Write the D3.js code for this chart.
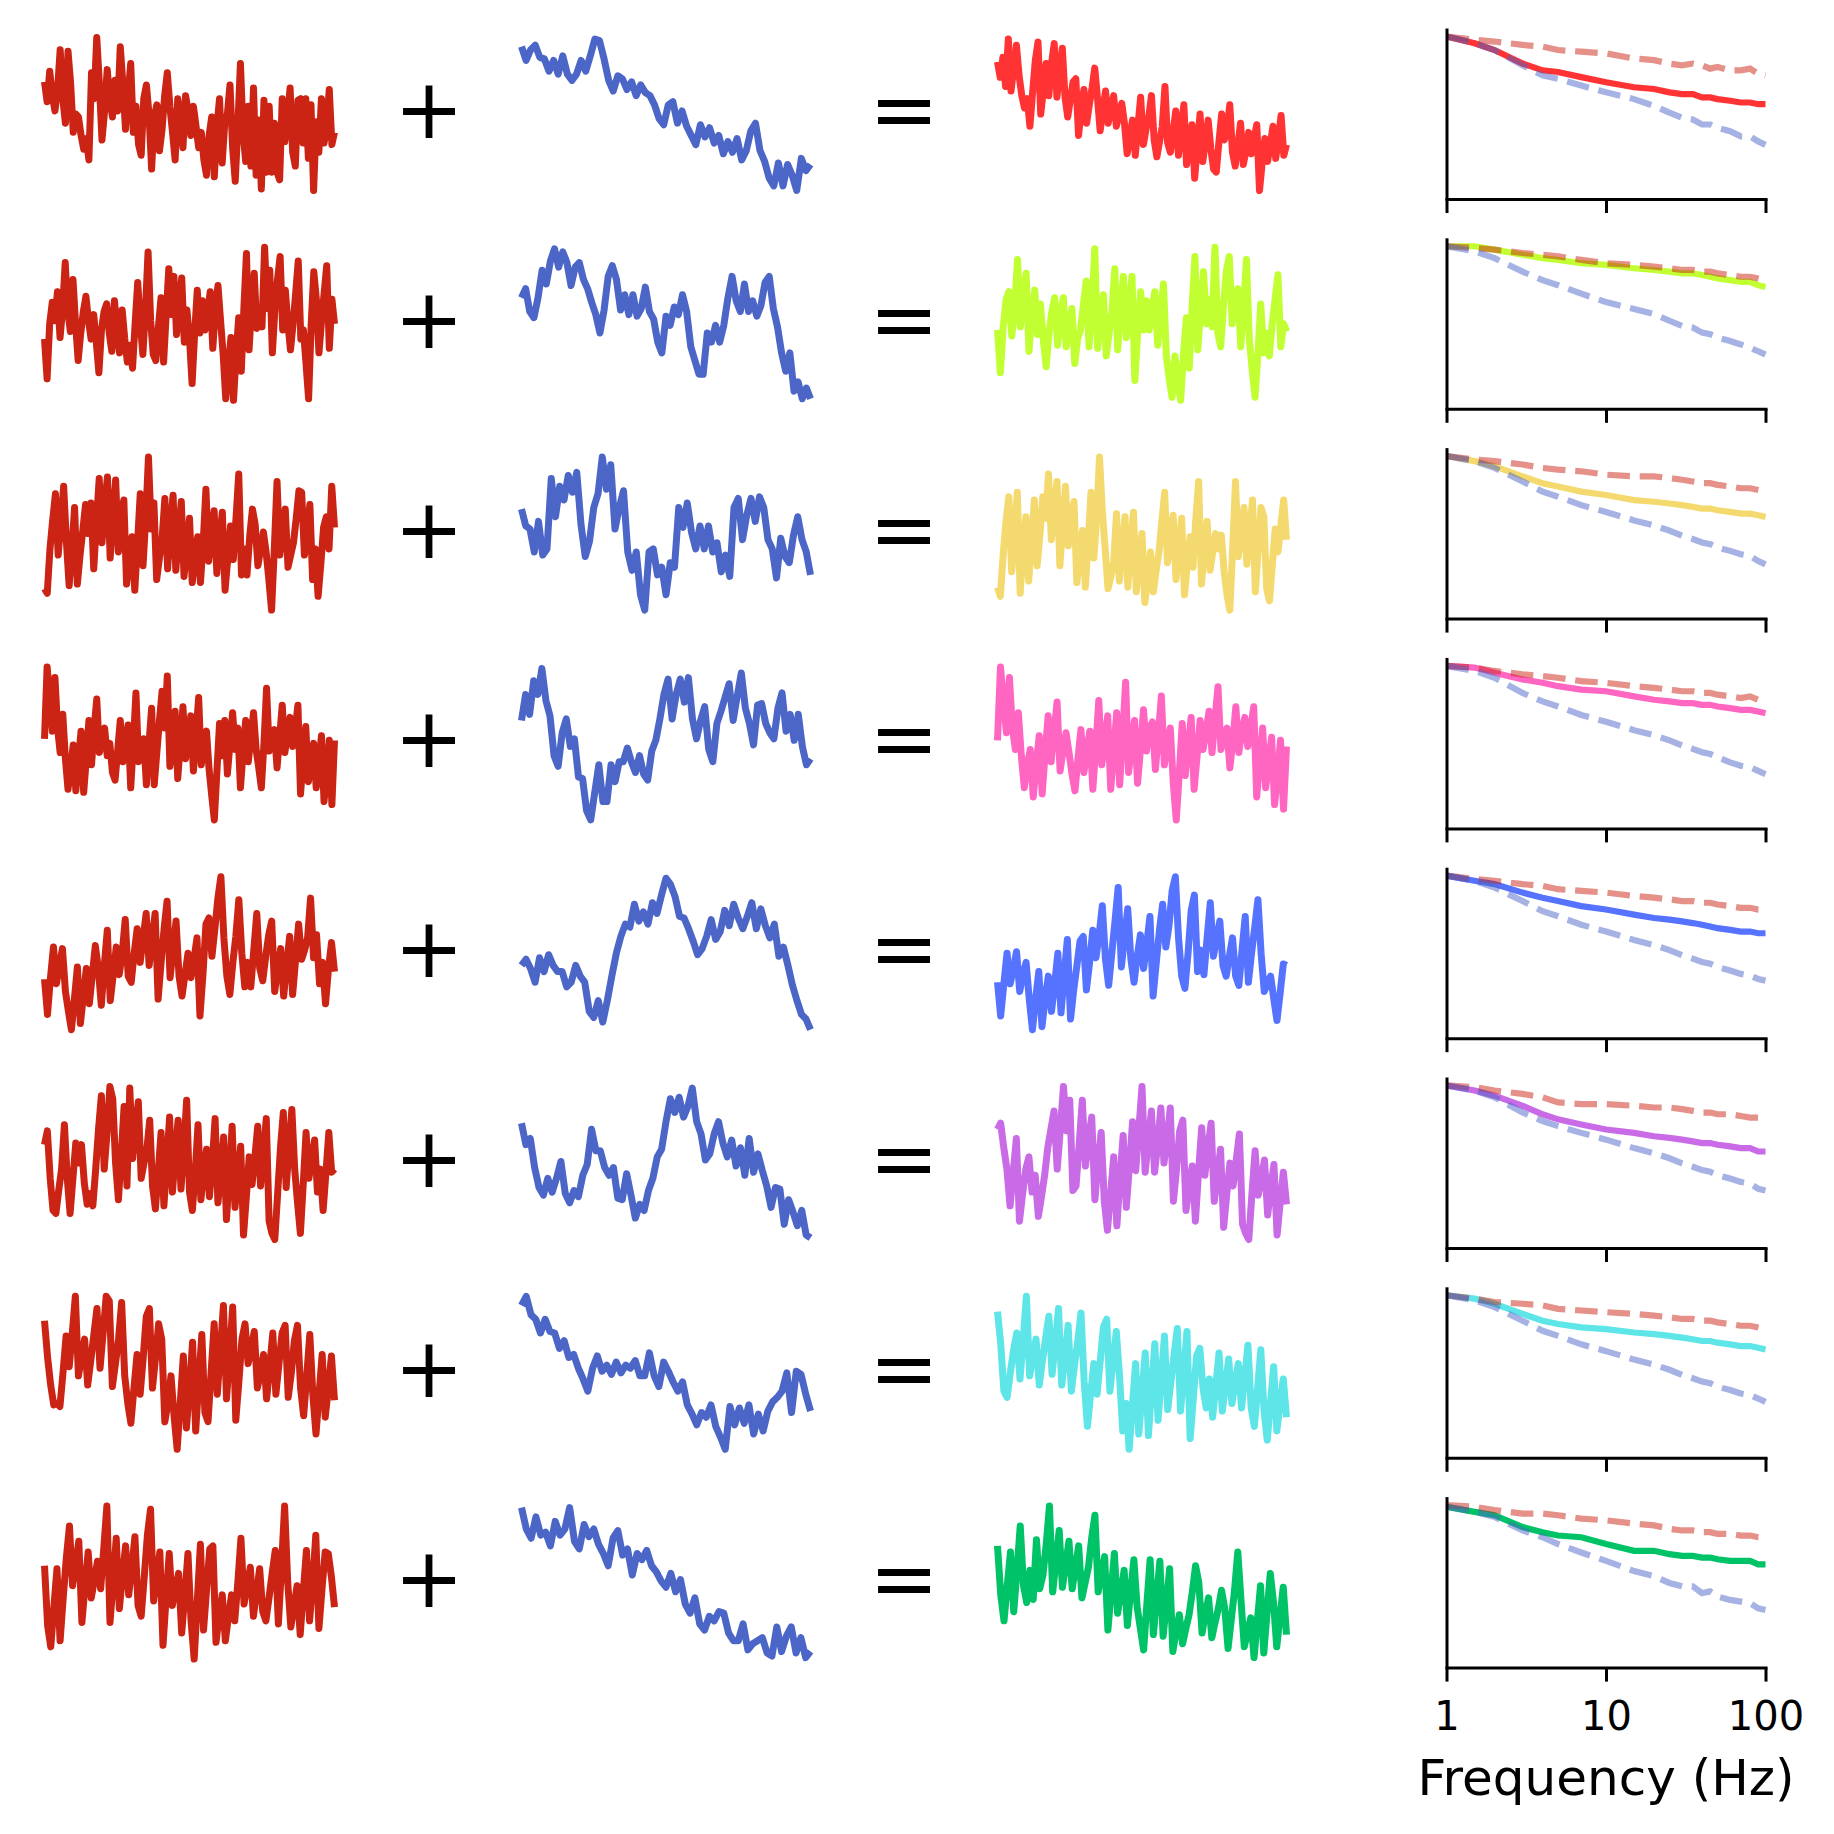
<!DOCTYPE html>
<html>
<head>
<meta charset="utf-8">
<script src="https://cdn.jsdelivr.net/npm/d3@7"></script>
<style>
  body { margin: 0; background: #fff; }
  text { font-family: "DejaVu Sans"; fill: #000; }
</style>
</head>
<body>
<svg id="chart" width="1834" height="1834"></svg>
<script>
// time series (0 = lowest point of the trace, 100 = highest)
const red1 = [71,58,78,62,52,66,92,60,44,91,70,38,50,48,36,27,34,20,77,60,100,70,33,52,79,60,48,72,52,94,70,40,62,83,38,55,30,23,60,69,50,14,48,56,26,40,62,77,55,38,20,60,48,28,62,52,36,55,42,28,38,20,10,36,48,9,42,60,18,44,50,69,28,6,42,83,38,19,55,16,67,10,46,1,59,12,55,12,44,12,7,60,32,49,67,25,16,59,60,31,60,21,56,0,45,25,60,31,42,66,30,38]
const blue1 = [94,85,92,95,87,86,78,85,76,88,76,72,76,85,78,88,99,98,86,72,65,75,73,66,71,62,69,64,62,56,47,43,56,58,44,52,42,36,30,43,35,41,31,36,24,32,25,34,20,26,39,44,26,19,8,3,18,3,17,10,0,21,13,17]
const sum1 = [84,74,87,68,99,65,80,95,75,62,54,60,42,64,85,97,50,66,83,62,83,96,61,78,93,61,48,60,71,73,36,52,66,44,56,67,80,61,39,52,65,44,54,62,42,50,57,44,24,36,46,23,42,61,30,40,48,62,33,22,32,42,68,31,25,38,52,23,40,56,17,30,43,8,30,50,19,32,46,27,14,12,32,50,33,40,56,25,16,30,44,17,26,38,24,34,43,0,18,34,19,30,42,21,34,49,23,30]

const red2 = [40,14,50,64,52,71,41,60,90,58,45,79,50,26,44,58,68,52,40,56,38,18,46,58,63,44,32,65,48,31,59,40,25,36,21,50,77,50,30,60,97,52,30,26,48,67,25,56,86,56,81,43,60,80,38,59,40,11,44,72,44,65,46,58,71,34,60,75,52,30,1,22,41,0,30,54,19,60,96,33,62,83,47,60,48,100,60,85,31,60,79,94,46,72,50,33,50,70,91,40,46,24,1,50,84,66,31,52,70,88,34,66,50]
const blue2 = [67,73,58,54,67,85,76,91,99,87,97,90,75,87,90,79,73,64,56,44,59,81,88,79,59,69,56,69,55,60,74,58,53,38,31,55,49,61,56,69,58,35,26,17,17,44,38,49,38,49,67,81,65,58,76,58,65,55,62,77,81,60,48,31,19,31,6,12,1,8,1]
const sum2 = [46,18,48,66,71,42,60,92,48,70,83,32,55,72,43,63,40,22,44,58,67,36,55,67,35,50,60,24,40,46,62,78,35,60,99,34,52,69,29,44,58,86,33,60,81,41,62,81,13,44,71,46,65,46,60,71,36,56,76,29,14,2,29,12,0,30,54,21,60,94,33,60,84,50,66,48,100,44,35,62,85,94,50,70,73,35,60,92,40,20,2,30,63,31,44,29,50,66,82,35,50,45]

const red3 = [14,11,40,59,76,36,58,81,45,16,40,67,17,36,52,69,50,70,27,58,86,44,68,87,34,60,85,38,62,72,17,32,48,13,44,76,29,60,100,53,70,20,34,47,73,27,55,75,26,50,71,22,42,60,18,34,48,18,44,79,32,50,65,24,46,64,13,34,55,33,60,89,23,40,23,48,66,56,29,40,51,38,20,0,40,84,36,52,66,28,36,44,60,78,77,36,52,69,20,40,9,30,54,61,40,81,54]
const blue3 = [66,55,53,38,58,36,40,86,61,81,72,88,77,90,56,35,45,67,76,100,79,95,53,67,78,38,26,38,10,0,38,40,23,28,10,31,28,67,54,70,51,40,55,40,55,38,44,25,36,22,67,73,46,62,73,58,74,67,46,40,21,47,35,31,49,61,46,38,23]
const sum3 = [15,9,36,58,74,25,50,77,11,40,61,19,44,72,29,50,74,60,89,46,66,84,29,55,81,42,60,71,18,36,52,15,44,77,34,60,100,65,40,14,22,31,63,19,40,61,15,44,64,12,32,50,5,20,38,12,26,38,58,77,31,48,62,20,40,60,10,30,48,28,60,84,17,40,58,26,38,50,40,49,25,10,0,40,84,35,52,67,30,50,72,12,40,67,61,14,6,30,53,38,55,72,46]

const red4 = [53,100,80,58,93,60,44,69,40,20,34,49,19,40,58,18,40,65,36,60,79,44,52,60,42,50,31,26,45,65,38,50,62,21,50,83,38,44,53,23,50,73,23,44,65,84,60,94,35,52,71,27,50,74,40,55,68,32,56,80,36,48,58,33,16,0,32,63,42,65,30,50,70,46,60,21,44,65,38,54,70,46,34,21,50,86,45,52,59,34,54,75,44,56,67,48,60,75,17,40,61,25,38,50,21,36,55,12,30,52,10,52]
const blue4 = [65,82,69,91,82,99,78,68,42,35,57,66,48,53,28,27,6,0,18,36,12,12,36,25,38,38,47,38,31,42,30,26,45,52,66,82,92,66,82,92,77,93,66,53,65,74,46,38,63,71,80,89,65,81,96,73,63,49,75,76,63,57,53,73,83,58,69,52,69,48,36,40]
const sum4 = [52,100,78,57,93,60,46,70,42,21,36,46,15,36,55,17,44,68,38,58,77,32,45,57,44,30,19,40,59,31,46,58,20,48,78,36,52,68,20,44,70,23,55,90,31,50,65,24,46,72,45,60,64,33,56,81,36,48,60,24,0,30,63,29,48,67,20,42,65,46,58,71,44,66,87,46,54,60,34,52,74,44,58,67,48,60,74,15,38,60,21,38,54,10,30,52,7,48]

const red5 = [33,10,34,54,30,42,53,25,12,0,20,41,4,22,40,17,36,55,40,16,42,65,19,36,54,36,50,72,35,31,50,66,44,60,76,42,60,76,20,44,66,84,34,52,71,35,22,36,50,34,46,60,9,36,69,73,48,66,86,100,60,35,23,44,61,85,50,28,44,28,52,76,40,32,48,62,71,25,40,53,22,42,61,23,46,69,46,52,60,86,47,62,30,44,17,40,57,38]
const blue5 = [42,46,40,31,47,38,49,42,38,38,28,31,42,35,31,12,8,19,5,19,35,50,61,69,67,82,71,77,69,83,76,88,99,95,87,74,73,66,58,49,53,61,72,59,64,78,68,82,73,66,74,83,66,79,68,60,69,48,54,42,29,19,10,7,0]
const sum5 = [31,9,30,50,30,40,51,25,36,44,20,0,20,38,2,20,35,12,30,50,11,36,59,7,26,42,58,61,26,44,65,47,62,81,46,29,50,71,93,41,60,79,46,31,48,62,40,56,74,22,44,65,82,54,68,91,100,60,35,27,50,78,88,38,52,36,60,83,48,60,71,42,35,48,60,35,29,52,74,31,50,67,85,50,25,30,35,20,6,24,43,42]

const red6 = [62,71,40,19,17,32,46,75,40,17,40,63,50,62,37,23,30,22,46,72,94,46,70,100,92,50,26,56,87,35,99,53,74,90,40,50,59,78,35,20,44,70,22,50,80,31,56,78,33,60,91,31,19,44,75,26,44,59,28,50,79,24,44,67,13,42,74,21,40,61,3,28,54,36,54,74,35,56,79,12,4,0,30,60,83,34,60,85,46,24,4,36,70,40,52,65,31,46,19,44,70,44,46]
const blue6 = [76,62,66,47,34,29,40,31,40,51,30,24,32,28,42,49,72,58,58,47,42,47,27,26,43,29,14,23,19,32,40,54,59,77,92,83,93,80,87,99,77,69,52,56,69,77,63,54,65,48,60,42,66,44,56,45,35,21,34,33,10,26,18,9,19,3,1]
const sum6 = [72,76,60,46,22,44,66,12,30,46,54,31,42,15,28,42,60,72,84,46,72,100,71,91,32,35,62,91,48,66,80,26,50,70,25,6,30,54,9,40,68,21,48,77,45,72,100,44,64,84,44,62,86,50,66,86,25,46,71,78,19,34,48,12,44,73,42,60,76,25,42,59,8,30,50,35,52,69,10,4,0,30,58,29,40,52,16,34,49,3,24,44,23]

const red7 = [84,60,42,29,30,28,50,74,54,76,100,48,60,72,42,58,75,92,53,76,100,97,41,56,72,96,48,30,17,40,62,36,60,87,92,40,60,82,72,18,30,48,22,0,30,61,14,40,70,12,44,75,24,18,50,82,36,64,94,33,62,93,19,44,72,82,56,66,77,40,50,62,33,54,76,36,56,76,81,34,50,71,81,40,22,48,75,35,10,36,62,21,40,61,32]
const blue7 = [94,100,88,85,76,85,77,76,66,71,60,62,53,46,38,53,61,51,55,49,57,50,55,53,58,48,48,63,48,41,57,51,44,38,44,29,23,16,24,21,29,15,8,0,28,16,27,17,29,10,23,12,25,31,34,38,50,24,51,49,36,25]
const sum7 = [90,69,38,34,50,65,76,46,72,100,48,60,72,42,58,73,87,49,70,92,42,60,81,38,55,71,89,44,15,36,56,36,58,80,85,38,58,77,48,12,30,0,28,56,10,36,63,9,40,69,19,46,74,26,44,62,79,25,50,77,7,34,61,66,40,27,46,21,42,63,25,42,59,30,44,56,27,48,68,27,15,40,65,25,6,30,54,12,30,46,21]

const red8 = [61,22,8,34,59,12,40,66,87,48,62,77,24,48,70,40,52,64,46,72,100,24,50,79,33,54,74,42,60,80,35,28,54,81,98,38,54,70,9,40,69,35,46,56,17,42,69,25,0,38,75,19,46,72,74,11,28,42,12,28,42,25,50,79,36,48,60,28,44,59,31,25,40,56,71,23,60,100,50,21,34,48,16,44,71,25,50,81,20,46,70,69,54,34]
const blue8 = [99,85,79,93,81,83,74,90,81,85,99,77,72,88,80,85,75,69,61,79,84,68,72,55,69,65,71,61,57,51,47,56,44,52,36,30,40,23,19,28,25,31,30,17,12,12,23,6,10,12,14,4,2,21,5,15,21,4,14,1,5]
const sum8 = [74,42,25,48,70,31,58,87,48,37,58,39,78,46,55,75,100,44,64,84,47,62,77,46,60,74,40,50,60,79,94,44,56,67,19,44,69,30,44,58,22,44,65,34,20,6,36,65,16,40,64,15,36,59,5,18,29,10,20,29,44,61,50,17,30,40,14,24,33,45,33,7,26,45,70,38,8,18,27,1,24,48,4,30,56,37,8,28,47,16]

// spectra (relative log power, 0 = near the top of the axis)
const freqs = [1,1.5,2,3,4,5,7,10,15,20,25,30,35,40,45,50,60,70,80,90,100]
const specRed1 = [-4,-6,-7,-9,-10,-12,-13,-14,-17,-18,-20,-21,-20,-21,-23,-22,-24,-24,-23,-26,-27]
const specSum1 = [-4,-8,-12,-20,-24,-25,-28,-31,-34,-35,-37,-38,-38,-40,-40,-41,-42,-43,-43,-44,-44]
const specBlue1 = [-4,-8,-12,-21,-27,-29,-33,-37,-41,-45,-49,-52,-53,-56,-56,-58,-60,-63,-63,-66,-68]
const specRed2 = [-4,-5,-6,-8,-9,-10,-12,-14,-15,-16,-17,-18,-18,-19,-19,-20,-21,-22,-22,-23,-24]
const specSum2 = [-4,-4,-6,-9,-11,-12,-14,-15,-17,-18,-19,-20,-20,-21,-22,-23,-24,-25,-25,-27,-28]
const specBlue2 = [-4,-7,-11,-19,-24,-27,-32,-37,-41,-44,-48,-51,-52,-55,-56,-58,-60,-62,-64,-66,-68]
const specRed3 = [-4,-6,-7,-9,-11,-12,-13,-15,-16,-16,-17,-18,-19,-20,-20,-21,-22,-23,-23,-24,-25]
const specSum3 = [-4,-7,-10,-16,-20,-22,-25,-27,-30,-31,-32,-33,-34,-35,-35,-36,-37,-38,-38,-39,-40]
const specBlue3 = [-4,-7,-11,-19,-25,-28,-33,-37,-42,-45,-48,-51,-53,-55,-56,-58,-60,-62,-63,-66,-68]
const specRed4 = [-4,-5,-7,-9,-10,-11,-13,-14,-16,-17,-18,-19,-19,-20,-20,-21,-22,-23,-22,-24,-24]
const specSum4 = [-4,-5,-8,-12,-14,-16,-18,-19,-22,-24,-25,-26,-26,-27,-27,-28,-29,-30,-30,-31,-32]
const specBlue4 = [-4,-7,-11,-20,-25,-28,-33,-37,-42,-45,-48,-51,-53,-55,-56,-58,-61,-63,-64,-66,-68]
const specRed5 = [-4,-6,-7,-9,-10,-12,-13,-14,-16,-17,-18,-19,-19,-20,-20,-21,-22,-23,-23,-24,-24]
const specSum5 = [-4,-7,-9,-14,-17,-19,-22,-24,-27,-29,-30,-31,-32,-33,-34,-35,-36,-37,-37,-38,-38]
const specBlue5 = [-4,-7,-11,-19,-25,-28,-33,-37,-42,-45,-48,-51,-53,-55,-56,-58,-60,-62,-63,-65,-66]
const specRed6 = [-4,-5,-7,-9,-11,-14,-15,-15,-16,-17,-17,-18,-19,-20,-20,-21,-21,-22,-23,-23,-24]
const specSum6 = [-4,-7,-10,-16,-21,-24,-27,-30,-32,-34,-35,-36,-37,-38,-38,-39,-40,-41,-41,-43,-43]
const specBlue6 = [-4,-7,-11,-20,-25,-28,-32,-36,-41,-44,-47,-50,-52,-54,-55,-57,-59,-61,-62,-65,-66]
const specRed7 = [-4,-6,-8,-9,-10,-12,-13,-14,-15,-16,-17,-18,-18,-19,-19,-20,-21,-22,-22,-23,-24]
const specSum7 = [-4,-6,-9,-15,-19,-21,-23,-24,-26,-27,-28,-29,-30,-31,-31,-32,-33,-34,-34,-35,-36]
const specBlue7 = [-4,-7,-11,-19,-25,-28,-33,-37,-42,-45,-48,-51,-53,-55,-56,-58,-60,-62,-63,-65,-67]
const specRed8 = [-4,-5,-7,-9,-9,-10,-12,-13,-15,-16,-18,-19,-19,-20,-20,-21,-21,-22,-22,-23,-23]
const specSum8 = [-5,-8,-10,-17,-20,-22,-23,-27,-31,-31,-33,-34,-34,-35,-35,-36,-37,-37,-37,-39,-39]
const specBlue8 = [-5,-8,-11,-19,-23,-27,-32,-37,-43,-46,-50,-52,-52,-56,-55,-58,-60,-61,-62,-65,-66]

const sumColors = ['#ff3333','#c1ff33','#f4da6e','#ff66c2','#5573ff','#c96ae6','#5de5e8','#00c266']
const redColor = '#cb2314'
const blueColor = '#4c66c8'
const freqTicks = [1, 10, 100]

const rows = [
  [red1, blue1, sum1, specRed1, specBlue1, specSum1],
  [red2, blue2, sum2, specRed2, specBlue2, specSum2],
  [red3, blue3, sum3, specRed3, specBlue3, specSum3],
  [red4, blue4, sum4, specRed4, specBlue4, specSum4],
  [red5, blue5, sum5, specRed5, specBlue5, specSum5],
  [red6, blue6, sum6, specRed6, specBlue6, specSum6],
  [red7, blue7, sum7, specRed7, specBlue7, specSum7],
  [red8, blue8, sum8, specRed8, specBlue8, specSum8]
]

const svg = d3.select('#chart')
const rowStep = 209.8
const traceHeight = 153
const traceWidth = 7
const lineWidth = 6.2

function drawTrace(g, values, x0, x1, color) {
  const x = d3.scaleLinear().domain([0, values.length - 1]).range([x0, x1])
  const y = d3.scaleLinear().domain([0, 100]).range([traceHeight + 37.5, 37.5])
  const line = d3.line().x((d, i) => x(i)).y(d => y(d))
  g.append('path')
    .attr('d', line(values))
    .attr('fill', 'none')
    .attr('stroke', color)
    .attr('stroke-width', traceWidth)
    .attr('stroke-linejoin', 'round')
}

const specX = d3.scaleLog().domain([1, 100]).range([1446.5, 1765.5])
const specY = d3.scaleLinear().domain([1, -100]).range([28, 199])
const specLine = d3.line().x((d, i) => specX(freqs[i])).y(d => specY(d))

rows.forEach((row, r) => {
  const g = svg.append('g').attr('transform', `translate(0,${r * rowStep})`)

  drawTrace(g, row[0], 44.5, 334.5, redColor)
  drawTrace(g, row[1], 521.5, 810.5, blueColor)
  drawTrace(g, row[2], 997.5, 1286.5, sumColors[r])

  g.append('text').text('+')
    .attr('x', 429).attr('y', 138)
    .attr('text-anchor', 'middle').style('font-size', '83px')
  g.append('text').text('=')
    .attr('x', 904).attr('y', 138)
    .attr('text-anchor', 'middle').style('font-size', '83px')

  // spectrum: solid first, dashed reference lines on top of it
  g.append('path')
    .attr('d', specLine(row[5]))
    .attr('fill', 'none')
    .attr('stroke', sumColors[r])
    .attr('stroke-width', lineWidth)

  g.append('path')
    .attr('d', specLine(row[3]))
    .attr('fill', 'none')
    .attr('stroke', redColor)
    .attr('stroke-opacity', 0.5)
    .attr('stroke-width', lineWidth)
    .attr('stroke-dasharray', '22.6 9.8')

  g.append('path')
    .attr('d', specLine(row[4]))
    .attr('fill', 'none')
    .attr('stroke', blueColor)
    .attr('stroke-opacity', 0.5)
    .attr('stroke-width', lineWidth)
    .attr('stroke-dasharray', '22.6 9.8')

  const yAxis = g.append('g')
    .attr('transform', `translate(${specX(1)},0)`)
    .call(d3.axisLeft(specY).tickValues([]).tickSize(0))
  yAxis.select('.domain').attr('stroke-width', 3).attr('stroke', '#000')

  const xAxis = g.append('g')
    .attr('transform', `translate(0,${specY(-100)})`)
    .call(d3.axisBottom(specX).tickValues(freqTicks).tickSize(14).tickSizeOuter(0)
      .tickFormat(r === rows.length - 1 ? d3.format('d') : ''))
  xAxis.select('.domain').attr('stroke-width', 3).attr('stroke', '#000').attr('stroke-linecap', 'square')
  xAxis.selectAll('.tick line').attr('stroke-width', 3).attr('stroke', '#000')
  xAxis.selectAll('.tick text')
    .attr('y', 0).attr('dy', 0)
    .attr('transform', 'translate(0,62)')
    .style('font-family', '"DejaVu Sans"')
    .style('font-size', '40px')
    .style('fill', '#000')
})

svg.append('text').text('Frequency (Hz)')
  .attr('x', 1606).attr('y', 1795)
  .attr('text-anchor', 'middle')
  .style('font-size', '50px')
</script>
</body>
</html>
